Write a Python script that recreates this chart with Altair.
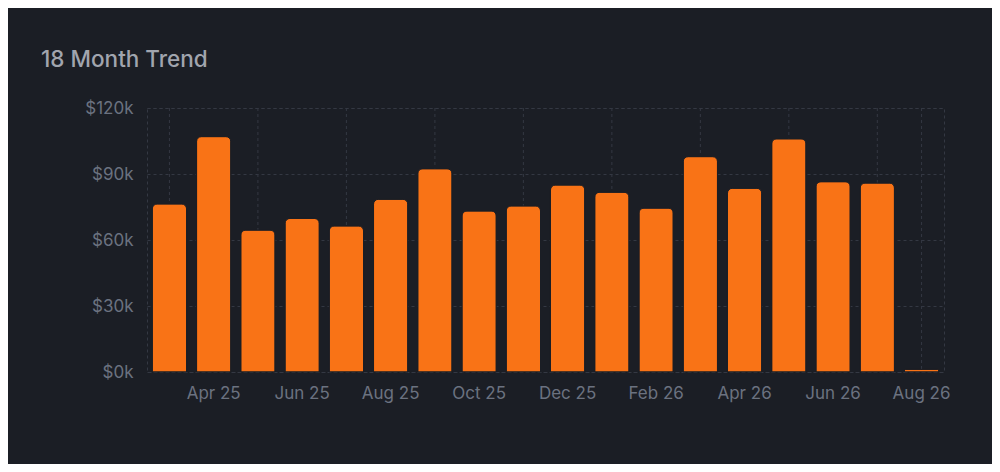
import pandas as pd
import altair as alt

# month labels and monthly totals
months = ['Mar 25', 'Apr 25', 'May 25', 'Jun 25', 'Jul 25', 'Aug 25', 'Sep 25', 'Oct 25', 'Nov 25',
          'Dec 25', 'Jan 26', 'Feb 26', 'Mar 26', 'Apr 26', 'May 26', 'Jun 26', 'Jul 26', 'Aug 26']
revenue = [76400, 107000, 64500, 69800, 66400, 78500, 92400, 73200, 75500,
           85000, 81700, 74500, 97900, 83500, 106000, 86500, 85900, 1200]

# x labels every other month, vertical grid on the others
label_months = months[1::2]
grid_months = months[0::2] + ['Aug 26']
y_ticks = [0, 30000, 60000, 90000, 120000]

card_bg = '#1b1e25'
grid_col = '#343843'
label_col = '#6b7280'
title_col = '#a1a5ae'
orange = '#f97316'

df = pd.DataFrame({'month': months, 'revenue': revenue})
grid_df = pd.DataFrame({'month': grid_months})

x_scale = alt.Scale(domain=months, paddingInner=0.226, paddingOuter=0.12)
x_axis = alt.Axis(values=label_months, labelAngle=0, ticks=False, domain=False,
                  grid=False, bandPosition=0.5, labelPadding=13, labelFontSize=17,
                  labelColor=label_col, title=None)

vgrid = alt.Chart(grid_df).mark_rule(color=grid_col, strokeDash=[3, 3]).encode(
    x=alt.X('month:N', scale=x_scale, sort=months, axis=x_axis)
)

bars = alt.Chart(df).mark_bar(
    color=orange,
    stroke=card_bg,
    strokeWidth=1,
    cornerRadiusTopLeft=5,
    cornerRadiusTopRight=5
).encode(
    x=alt.X('month:N', scale=x_scale, sort=months, axis=x_axis),
    y=alt.Y('revenue:Q', scale=alt.Scale(domain=[0, 120000], nice=False),
            axis=alt.Axis(values=y_ticks, labelExpr="'$' + datum.value / 1000 + 'k'",
                          ticks=False, domain=False, grid=True, gridColor=grid_col,
                          gridDash=[3, 3], labelPadding=14, labelFontSize=17,
                          labelColor=label_col, title=None))
)

chart = alt.layer(vgrid, bars).properties(
    width=797,
    height=264,
    autosize=alt.AutoSizeParams(type='none'),
    padding={'left': 139, 'top': 100, 'right': 48, 'bottom': 92},
    background=card_bg,
    title=alt.TitleParams('18 Month Trend', anchor='start', frame='group', dx=-106, offset=28,
                          fontSize=22.5, fontWeight=500, color=title_col, font='Inter')
).configure(
    font='Inter'
).configure_view(
    stroke=grid_col,
    strokeDash=[3, 3]
)

chart.save('out.html', embed_options={'renderer': 'svg', 'actions': False})
